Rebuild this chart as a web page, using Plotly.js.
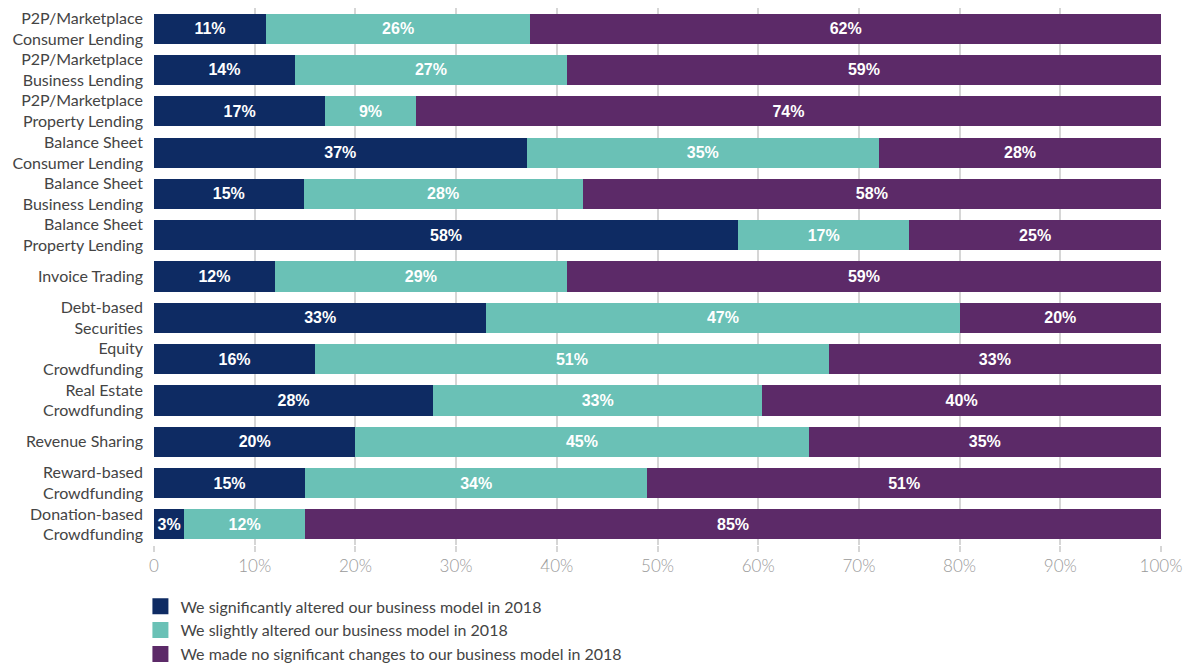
<!DOCTYPE html>
<html>
<head>
<meta charset="utf-8">
<script src="https://cdn.plot.ly/plotly-3.0.1.min.js"></script>
<style>html,body{margin:0;padding:0;background:#fff;}#chart{width:1190px;height:666px;}</style>
</head>
<body>
<div id="chart"></div>
<script>
const categories = [
  "P2P/Marketplace<br>Consumer Lending",
  "P2P/Marketplace<br>Business Lending",
  "P2P/Marketplace<br>Property Lending",
  "Balance Sheet<br>Consumer Lending",
  "Balance Sheet<br>Business Lending",
  "Balance Sheet<br>Property Lending",
  "Invoice Trading",
  "Debt-based<br>Securities",
  "Equity<br>Crowdfunding",
  "Real Estate<br>Crowdfunding",
  "Revenue Sharing",
  "Reward-based<br>Crowdfunding",
  "Donation-based<br>Crowdfunding"
];
const significantly = [11, 14, 17, 37, 15, 58, 12, 33, 16, 28, 20, 15, 3];
const slightly      = [26, 27, 9, 35, 28, 17, 29, 47, 51, 33, 45, 34, 12];
const noChange      = [62, 59, 74, 28, 58, 25, 59, 20, 33, 40, 35, 51, 85];
const seriesNames = [
  "We significantly altered our business model in 2018",
  "We slightly altered our business model in 2018",
  "We made no significant changes to our business model in 2018"
];
const tickVals = [0, 10, 20, 30, 40, 50, 60, 70, 80, 90, 100];
const tickText = ["0", "10%", "20%", "30%", "40%", "50%", "60%", "70%", "80%", "90%", "100%"];

const colors = ["#0e2b63", "#6ac1b6", "#5c2a68"];
const seriesVals = [significantly, slightly, noChange];

const traces = seriesVals.map((vals, i) => ({
  type: "bar",
  orientation: "h",
  name: seriesNames[i],
  showlegend: false,
  y: categories,
  x: vals,
  text: vals.map(v => v + "%"),
  texttemplate: "%{text}",
  textposition: "inside",
  insidetextanchor: "middle",
  textangle: 0,
  textfont: {family: "Liberation Sans, Arial, sans-serif", size: 16, color: "#ffffff", weight: "bold"},
  marker: {color: colors[i], line: {width: 0}},
  hoverinfo: "skip"
}));

// legend entries with larger square swatches
seriesNames.forEach((name, i) => {
  traces.push({
    type: "scatter",
    mode: "markers",
    name: name,
    x: [null],
    y: [categories[0]],
    marker: {symbol: "square", size: 18, color: colors[i]},
    showlegend: true,
    hoverinfo: "skip"
  });
});

const layout = {
  width: 1190,
  height: 666,
  barmode: "stack",
  barnorm: "percent",
  bargap: 0.27,
  paper_bgcolor: "#ffffff",
  plot_bgcolor: "#ffffff",
  margin: {l: 154, r: 29, t: 8, b: 121, autoexpand: false},
  font: {family: "Lato, sans-serif", size: 16, color: "#444444"},
  uniformtext: {minsize: 16, mode: "show"},
  xaxis: {
    range: [0, 100],
    tickvals: tickVals,
    ticktext: tickText,
    showgrid: true,
    gridcolor: "#d6d6d6",
    gridwidth: 2,
    zeroline: false,
    ticks: "outside",
    ticklen: 6,
    tickwidth: 2,
    tickcolor: "#d6d6d6",
    showline: false,
    automargin: false,
    tickfont: {family: "Lato, sans-serif", size: 17, color: "#9a9a9a", weight: 300},
    fixedrange: true
  },
  yaxis: {
    range: [categories.length - 0.5, -0.5],
    autorange: false,
    showgrid: false,
    zeroline: false,
    showline: false,
    ticks: "",
    automargin: false,
    ticklabelstandoff: 10,
    tickfont: {family: "Lato, sans-serif", size: 16, color: "#444444"},
    fixedrange: true
  },
  showlegend: true,
  legend: {
    orientation: "v",
    xref: "container",
    yref: "container",
    x: 0.118,
    xanchor: "left",
    y: 0.115,
    yanchor: "top",
    traceorder: "normal",
    itemsizing: "trace",
    font: {family: "Lato, sans-serif", size: 16, color: "#444444"},
    itemwidth: 30,
    tracegroupgap: 0,
    bgcolor: "rgba(0,0,0,0)"
  }
};

Plotly.newPlot("chart", traces, layout, {displayModeBar: false, staticPlot: true});
</script>
</body>
</html>
